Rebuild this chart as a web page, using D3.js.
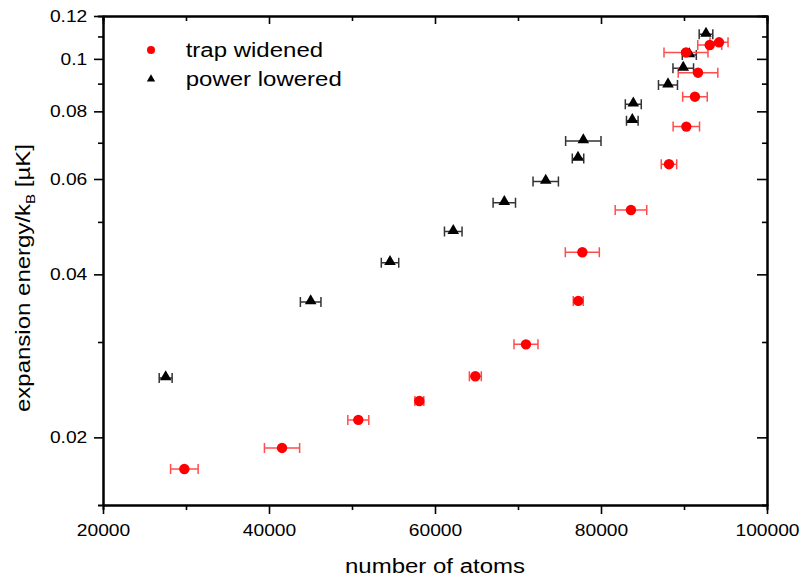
<!DOCTYPE html>
<html lang="en">
<head>
    <meta charset="UTF-8">
    <title>expansion energy vs number of atoms</title>
    <style>
        body {
            margin: 0;
            background: white;
        }
        svg text {
            font-family: 'Liberation Sans', Arial, sans-serif;
            fill: #000;
        }
    </style>
</head>
<body>
    <div id="chart"></div>

    <script src="https://cdnjs.cloudflare.com/ajax/libs/d3/7.8.5/d3.min.js"></script>
    <script>
        // trap widened (red circles)
        const redAtoms = [29800, 41570, 50760, 58110, 64860, 70960, 77260, 77750, 83610, 88190, 90280, 91320, 91690, 90240, 93100, 94220];
        const redEnergy = [0.01748, 0.01912, 0.02154, 0.02334, 0.02593, 0.0297, 0.03573, 0.04394, 0.0526, 0.0639, 0.07497, 0.08515, 0.0943, 0.1028, 0.1061, 0.1073];
        const redAtomsErr = [1660, 2120, 1265, 540, 720, 1445, 600, 2050, 1900, 930, 1590, 1480, 2385, 2650, 1445, 1085];

        // power lowered (black triangles)
        const blackAtoms = [27550, 45020, 54580, 62200, 68350, 73340, 77230, 77870, 83770, 83890, 88070, 89910, 90640, 92650];
        const blackEnergy = [0.02575, 0.03557, 0.04203, 0.04797, 0.05425, 0.05937, 0.06547, 0.07052, 0.07686, 0.08245, 0.08947, 0.09606, 0.1017, 0.1110];
        const blackAtomsErr = [780, 1240, 1050, 1060, 1350, 1530, 690, 2130, 700, 960, 1145, 1240, 845, 820];

        // ticks
        const xMajor = [20000, 40000, 60000, 80000, 100000];
        const xMinor = [30000, 50000, 70000, 90000];
        const yMajor = [0.02, 0.04, 0.06, 0.08, 0.1, 0.12];
        const yMajorLabels = ["0.02", "0.04", "0.06", "0.08", "0.1", "0.12"];
        const yMinor = [0.03, 0.05, 0.07, 0.09, 0.11];

        const W = 802, H = 580;
        const pLeft = 103, pRight = 767, pTop = 16, pBottom = 505;
        const stretch = 1.165;   // the source font is wider than Arial

        const svg = d3.select("#chart")
            .append("svg")
            .attr("width", W)
            .attr("height", H);

        const x = d3.scaleLinear().domain([20000, 100000]).range([pLeft, pRight]);
        const y = d3.scaleLog().domain([0.015, 0.12]).range([pBottom, pTop]);

        // axes: bottom/left outward, top/right inward
        function styleAxis(g) {
            g.select(".domain").attr("stroke", "#000").attr("stroke-width", 2);
            g.selectAll(".tick line").attr("stroke", "#000").attr("stroke-width", 1.6);
        }

        svg.append("g")
            .attr("transform", `translate(0,${pBottom})`)
            .call(d3.axisBottom(x).tickValues(xMinor).tickSize(5).tickFormat(""))
            .call(styleAxis);
        svg.append("g")
            .attr("transform", `translate(0,${pBottom})`)
            .call(d3.axisBottom(x).tickValues(xMajor).tickSize(9).tickPadding(10).tickSizeOuter(0).tickFormat(d3.format("d")))
            .call(styleAxis)
            .selectAll("text")
            .style("font-size", "16.5px")
            .attr("transform", `scale(${stretch},1)`);

        svg.append("g")
            .attr("transform", `translate(0,${pTop})`)
            .call(d3.axisTop(x).tickValues(xMinor).tickSize(-5).tickFormat(""))
            .call(styleAxis);
        svg.append("g")
            .attr("transform", `translate(0,${pTop})`)
            .call(d3.axisTop(x).tickValues(xMajor).tickSize(-8).tickSizeOuter(0).tickFormat(""))
            .call(styleAxis);

        svg.append("g")
            .attr("transform", `translate(${pLeft},0)`)
            .call(d3.axisLeft(y).tickValues(yMinor).tickSize(5).tickFormat(""))
            .call(styleAxis);
        svg.append("g")
            .attr("transform", `translate(${pLeft},0)`)
            .call(d3.axisLeft(y).tickValues(yMajor).tickSize(9).tickSizeOuter(0)
                .tickFormat((d, i) => yMajorLabels[i]))
            .call(styleAxis)
            .selectAll("text")
            .style("font-size", "16.5px")
            .attr("x", -15.7 / stretch)
            .attr("transform", `scale(${stretch},1)`);

        svg.append("g")
            .attr("transform", `translate(${pRight},0)`)
            .call(d3.axisRight(y).tickValues(yMinor).tickSize(-5).tickFormat(""))
            .call(styleAxis);
        svg.append("g")
            .attr("transform", `translate(${pRight},0)`)
            .call(d3.axisRight(y).tickValues(yMajor).tickSize(-10).tickSizeOuter(0).tickFormat(""))
            .call(styleAxis);

        // axis titles
        svg.append("text")
            .attr("transform", `translate(${(pLeft + pRight) / 2},573) scale(${stretch},1)`)
            .attr("text-anchor", "middle")
            .style("font-size", "20.6px")
            .text("number of atoms");

        const yTitle = svg.append("text")
            .attr("transform", `translate(29.5,412) rotate(-90) scale(${stretch},1)`)
            .attr("text-anchor", "start")
            .style("font-size", "20.6px");
        yTitle.append("tspan").text("expansion energy/k");
        yTitle.append("tspan").attr("dy", 5).style("font-size", "13px").text("B");
        yTitle.append("tspan").attr("dy", -5).text(" [µK]");

        // series
        const red = redAtoms.map((v, i) => ({ x: v, y: redEnergy[i], e: redAtomsErr[i] }));
        const black = blackAtoms.map((v, i) => ({ x: v, y: blackEnergy[i], e: blackAtomsErr[i] }));

        function errorBars(data, color) {
            const g = svg.append("g")
                .attr("stroke", color)
                .attr("stroke-width", 1.5)
                .attr("fill", "none");
            g.selectAll("path")
                .data(data)
                .enter()
                .append("path")
                .attr("d", d => {
                    const x0 = x(d.x - d.e), x1 = x(d.x + d.e), yy = y(d.y);
                    return `M${x0},${yy}H${x1}M${x0},${yy - 5}V${yy + 5}M${x1},${yy - 5}V${yy + 5}`;
                });
        }

        errorBars(black, "#333");
        errorBars(red, "#ff4d4d");

        svg.append("g")
            .selectAll("path")
            .data(black)
            .enter()
            .append("path")
            .attr("transform", d => `translate(${x(d.x)},${y(d.y) - 1})`)
            .attr("d", d3.symbol(d3.symbolTriangle).size(58))
            .attr("fill", "#000");

        svg.append("g")
            .selectAll("circle")
            .data(red)
            .enter()
            .append("circle")
            .attr("cx", d => x(d.x))
            .attr("cy", d => y(d.y))
            .attr("r", 5.2)
            .attr("fill", "#ff0000");

        // legend
        const legend = svg.append("g");
        legend.append("circle")
            .attr("cx", 151)
            .attr("cy", 50)
            .attr("r", 4)
            .attr("fill", "#ff0000");
        legend.append("path")
            .attr("transform", "translate(151,79)")
            .attr("d", d3.symbol(d3.symbolTriangle).size(30))
            .attr("fill", "#000");
        legend.append("text")
            .attr("transform", `translate(185.7,57.3) scale(${stretch},1)`)
            .style("font-size", "20.6px")
            .text("trap widened");
        legend.append("text")
            .attr("transform", `translate(185.7,85.5) scale(${stretch},1)`)
            .style("font-size", "20.6px")
            .text("power lowered");
    </script>
</body>
</html>
